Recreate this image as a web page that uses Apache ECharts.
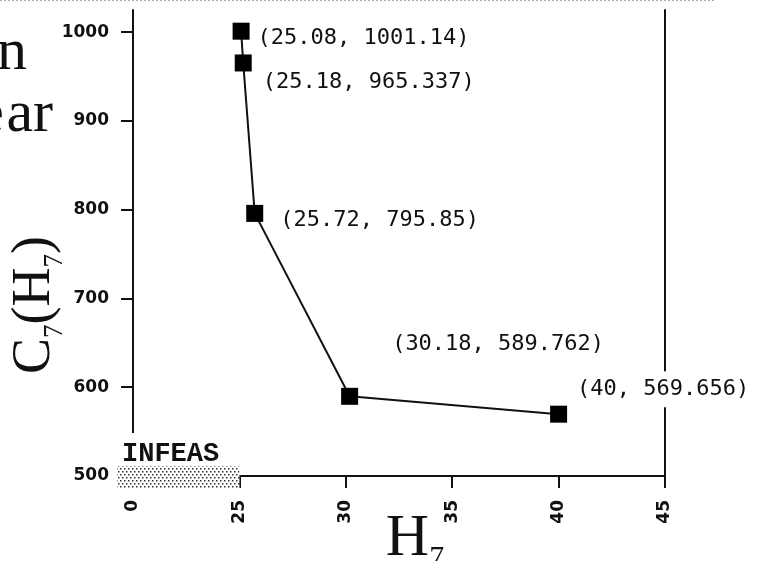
<!DOCTYPE html>
<html>
<head>
<meta charset="utf-8">
<script src="https://cdn.jsdelivr.net/npm/echarts@6/dist/echarts.min.js"></script>
<style>
html, body { margin: 0; padding: 0; background: #fff; }
#main { width: 762px; height: 561px; }
</style>
</head>
<body>
<div id="main"></div>
<script>
// data
var hValues = [25.08, 25.18, 25.72, 30.18, 40];
var costValues = [1001.14, 965.337, 795.85, 589.762, 569.656];
// broken x axis: the stop at 20 is labelled 0
var xTickStops = [20, 25, 30, 35, 40, 45];
var xTickLabels = ['0', '25', '30', '35', '40', '45'];
var yTickValues = [500, 600, 700, 800, 900, 1000];
var infeasRange = [20, 25];
var infeasText = 'INFEAS';

// label placement per point (layout only)
var labelShift = [[3, 7], [6, 19], [12, 7], [29, -52], [3, -25]];

var chart = echarts.init(document.getElementById('main'));

var seriesData = [];
for (var i = 0; i < hValues.length; i++) {
  var item = { value: [hValues[i], costValues[i]], label: { offset: labelShift[i] } };
  if (i == hValues.length - 1) {
    item.label.backgroundColor = '#fff';
    item.label.padding = [7, 2];
  }
  seriesData.push(item);
}

var tickFont = { fontSize: 17, fontWeight: 'bold', fontFamily: 'DejaVu Sans', color: '#111' };
var axisLn = { show: true, lineStyle: { color: '#111', width: 2 } };

var option = {
  animation: false,
  backgroundColor: '#fff',
  grid: { left: 133, right: 97, top: 10, bottom: 85, outerBoundsMode: 'none', containLabel: false },
  xAxis: {
    type: 'value', min: 20, max: 45, interval: 5,
    axisLine: axisLn,
    axisTick: { show: true, length: 12, lineStyle: { color: '#111', width: 2 } },
    axisLabel: Object.assign({
      rotate: 90, margin: 24,
      formatter: function (v) {
        var k = xTickStops.indexOf(v);
        return k >= 0 ? xTickLabels[k] : '';
      }
    }, tickFont),
    splitLine: { show: false },
    name: '{m|H}{s|7}',
    nameLocation: 'middle',
    nameGap: 33,
    nameMoveOverlap: false,
    nameTextStyle: {
      padding: [0, 0, 0, 32],
      rich: {
        m: { fontFamily: 'Liberation Serif', fontSize: 60, color: '#111', verticalAlign: 'top', lineHeight: 60 },
        s: { fontFamily: 'Liberation Serif', fontSize: 30, color: '#111', verticalAlign: 'top', lineHeight: 30, padding: [34, 0, 0, 0] }
      }
    }
  },
  yAxis: [{
    type: 'value', min: 500, max: 1025,
    axisLine: axisLn,
    axisTick: { show: true, length: 12, customValues: yTickValues, lineStyle: { color: '#111', width: 2 } },
    axisLabel: Object.assign({ margin: 24, customValues: yTickValues, formatter: function (v) { return String(v); } }, tickFont),
    splitLine: { show: false },
    name: '{m|C}{s|7}{m|(H}{s|7}{m|)}',
    nameLocation: 'middle',
    nameRotate: 90,
    nameGap: 71,
    nameMoveOverlap: false,
    nameTextStyle: {
      padding: [0, 124, 0, 0],
      rich: {
        m: { fontFamily: 'Liberation Serif', fontSize: 54, color: '#111', verticalAlign: 'top', lineHeight: 54 },
        s: { fontFamily: 'Liberation Serif', fontSize: 27, color: '#111', verticalAlign: 'top', lineHeight: 27, padding: [33, 0, 0, 0] }
      }
    }
  }, {
    type: 'value', min: 500, max: 1025, position: 'right',
    axisLine: axisLn,
    axisTick: { show: false },
    axisLabel: { show: false },
    splitLine: { show: false }
  }],
  series: [{
    type: 'line',
    data: seriesData,
    symbol: 'rect',
    symbolSize: 17,
    lineStyle: { color: '#111', width: 2 },
    itemStyle: { color: '#000' },
    label: {
      show: true,
      position: 'right',
      fontFamily: 'DejaVu Sans Mono',
      fontSize: 22,
      color: '#111',
      formatter: function (p) { return '(' + p.value[0] + ', ' + p.value[1] + ')'; }
    },
    z: 5
  }]
};
chart.setOption(option);

// dotted shading for the infeasible stretch of the x axis
var pat = document.createElement('canvas');
pat.width = 4; pat.height = 6;
var ctx = pat.getContext('2d');
ctx.fillStyle = '#fff';
ctx.fillRect(0, 0, 4, 6);
ctx.fillStyle = '#333';
ctx.fillRect(0, 0, 1.5, 1.5);
ctx.fillRect(2, 3, 1.5, 1.5);

var a = chart.convertToPixel({ gridIndex: 0 }, [infeasRange[0], 500]);
var b = chart.convertToPixel({ gridIndex: 0 }, [infeasRange[1], 500]);

chart.setOption({
  graphic: [
    { type: 'line', z: 20, shape: { x1: 0, y1: 0.5, x2: 715, y2: 0.5 },
      style: { stroke: '#aaa', lineWidth: 1, lineDash: [2, 2] } },
    { type: 'text', z: 20, style: { text: 'n', x: 27, y: 83, textAlign: 'right', textVerticalAlign: 'bottom',
      fontFamily: 'Liberation Serif', fontSize: 60, fill: '#111' } },
    { type: 'text', z: 20, style: { text: 'e', x: 4, y: 145, textAlign: 'right', textVerticalAlign: 'bottom',
      fontFamily: 'Liberation Serif', fontSize: 60, fill: '#111' } },
    { type: 'text', z: 20, style: { text: 'ar', x: 53, y: 145, textAlign: 'right', textVerticalAlign: 'bottom',
      fontFamily: 'Liberation Serif', fontSize: 60, fill: '#111' } },
    { type: 'rect', z: 20, shape: { x: a[0] - 16, y: a[1] - 43, width: b[0] - a[0] - 12, height: 33 },
      style: { fill: '#fff' } },
    { type: 'text', z: 21, style: { text: infeasText, x: a[0] - 11, y: a[1] - 8, textVerticalAlign: 'bottom',
      fontFamily: 'Liberation Mono', fontWeight: 'bold', fontSize: 27, fill: '#111' } },
    { type: 'rect', z: 20, shape: { x: a[0] - 16, y: a[1] - 10, width: b[0] - a[0] + 16, height: 22 },
      style: { fill: { image: pat, repeat: 'repeat' } } }
  ]
});
</script>
</body>
</html>
